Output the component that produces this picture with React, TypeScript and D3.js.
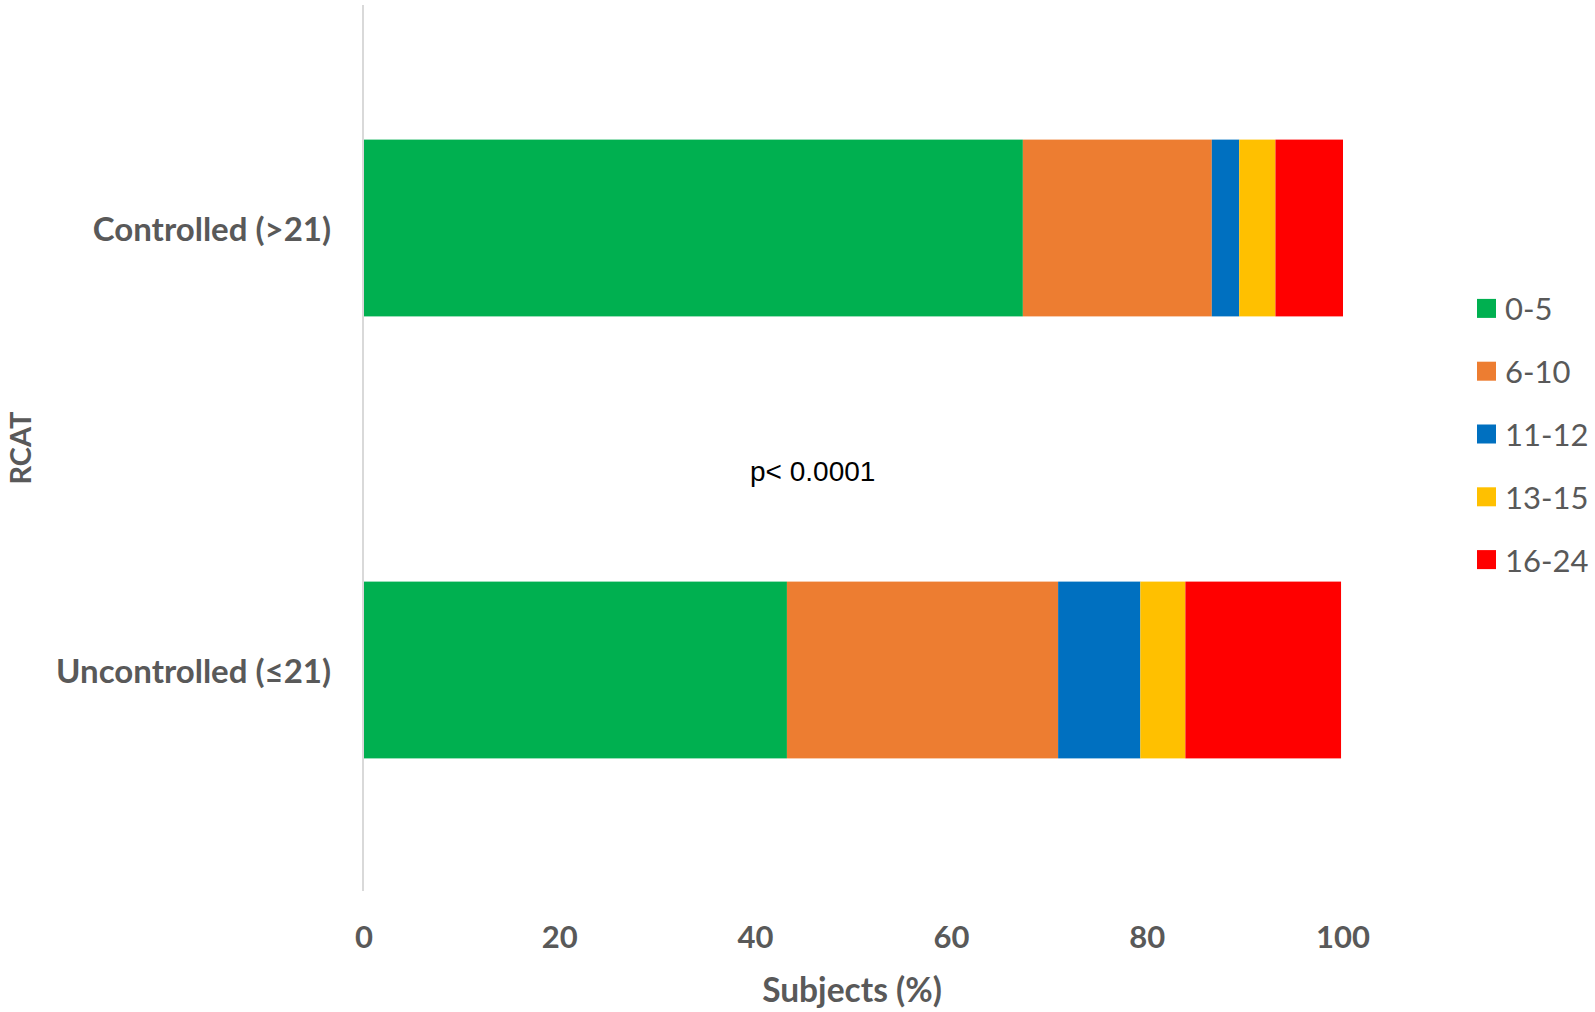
import { scaleBand, scaleLinear, stack } from "d3";

const groups = ["Controlled (>21)", "Uncontrolled (≤21)"];
const bins = ["0-5", "6-10", "11-12", "13-15", "16-24"];
const binColors = ["#00B050", "#ED7D31", "#0070C0", "#FFC000", "#FF0000"];
// percent of subjects per RCAT group, one value per bin
const controlledPct = [67.3, 19.3, 2.8, 3.7, 6.9];
const uncontrolledPct = [43.2, 27.7, 8.4, 4.6, 15.9];
const xTicks = [0, 20, 40, 60, 80, 100];
const pValueNote = "p< 0.0001";

type Row = { group: string } & Record<string, number | string>;

export default function App() {
  const width = 1595;
  const height = 1012;
  const plot = { left: 364, right: 1343, top: 7, bottom: 891 };
  const grey = "#595959";
  const font = "Lato, 'Open Sans', sans-serif";

  const rows: Row[] = groups.map((g, gi) => {
    const vals = gi === 0 ? controlledPct : uncontrolledPct;
    const row: Row = { group: g };
    bins.forEach((b, i) => (row[b] = vals[i]));
    return row;
  });

  const series = stack<Row>().keys(bins)(rows);

  const x = scaleLinear().domain([0, 100]).range([plot.left, plot.right]);
  const y = scaleBand<string>()
    .domain(groups)
    .range([plot.top, plot.bottom])
    .paddingInner(0.6)
    .paddingOuter(0.3);

  const legendY = scaleBand<string>().domain(bins).range([277, 591]);

  return (
    <svg
      width={width}
      height={height}
      viewBox={`0 0 ${width} ${height}`}
      style={{ position: "absolute", left: 0, top: 0, background: "#fff" }}
    >
      {series.map((s, si) =>
        s.map((d) => (
          <rect
            key={`${bins[si]}-${d.data.group}`}
            x={x(d[0])}
            y={y(d.data.group as string)}
            width={x(d[1]) - x(d[0])}
            height={y.bandwidth()}
            fill={binColors[si]}
          />
        ))
      )}

      <line
        x1={plot.left - 1}
        x2={plot.left - 1}
        y1={plot.top - 2}
        y2={plot.bottom}
        stroke="#d9d9d9"
        strokeWidth={2}
      />

      {xTicks.map((t) => (
        <text
          key={t}
          x={x(t)}
          y={936}
          textAnchor="middle"
          dominantBaseline="central"
          fontFamily={font}
          fontWeight={700}
          fontSize={31}
          fill={grey}
        >
          {t}
        </text>
      ))}

      {groups.map((g) => (
        <text
          key={g}
          x={331}
          y={(y(g) ?? 0) + y.bandwidth() / 2}
          textAnchor="end"
          dominantBaseline="central"
          fontFamily={font}
          fontWeight={700}
          fontSize={33}
          fill={grey}
        >
          {g}
        </text>
      ))}

      <text
        x={852}
        y={989}
        textAnchor="middle"
        dominantBaseline="central"
        fontFamily={font}
        fontWeight={700}
        fontSize={33.5}
        fill={grey}
      >
        Subjects (%)
      </text>

      <text
        transform="translate(19,448) rotate(-90)"
        textAnchor="middle"
        dominantBaseline="central"
        fontFamily={font}
        fontWeight={700}
        fontSize={29}
        fill={grey}
      >
        RCAT
      </text>

      <text
        x={750}
        y={481}
        fontFamily="'Liberation Sans', Arial, sans-serif"
        fontSize={28}
        fill="#000"
      >
        {pValueNote}
      </text>

      {bins.map((b, i) => {
        const cy = (legendY(b) ?? 0) + legendY.bandwidth() / 2;
        return (
          <g key={b}>
            <rect x={1477} y={cy - 9.5} width={19} height={19} fill={binColors[i]} />
            <text
              x={1505}
              y={cy}
              dominantBaseline="central"
              fontFamily={font}
              fontSize={31}
              fill={grey}
            >
              {b}
            </text>
          </g>
        );
      })}
    </svg>
  );
}
